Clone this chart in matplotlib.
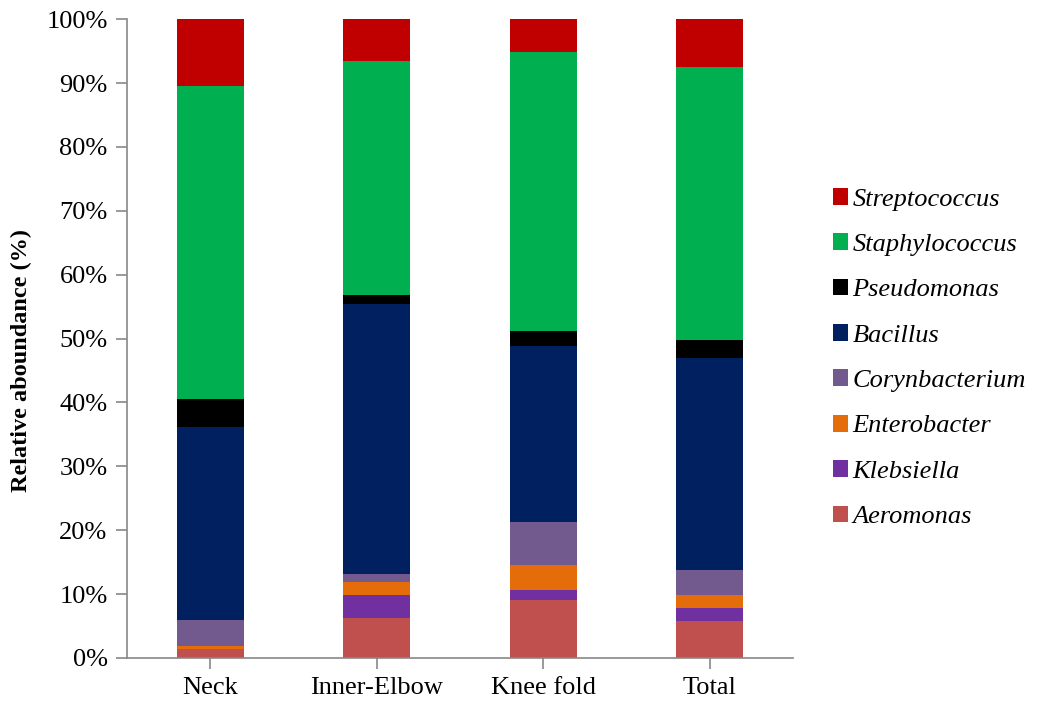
import matplotlib.pyplot as plt
import numpy as np

sites = ["Neck", "Inner-Elbow", "Knee fold", "Total"]

# stacked from the bottom up (values in %)
genera = ["Aeromonas", "Klebsiella", "Enterobacter", "Corynbacterium",
          "Bacillus", "Pseudomonas", "Staphylococcus", "Streptococcus"]
aeromonas = [1.4, 6.3, 9.0, 5.8]
klebsiella = [0.0, 3.6, 1.7, 2.0]
enterobacter = [0.5, 2.0, 3.9, 2.1]
corynbacterium = [4.0, 1.2, 6.7, 3.8]
bacillus = [30.2, 42.3, 27.5, 33.3]
pseudomonas = [4.5, 1.4, 2.4, 2.7]
staphylococcus = [48.9, 36.6, 43.7, 42.8]
streptococcus = [10.5, 6.6, 5.1, 7.5]

values = [aeromonas, klebsiella, enterobacter, corynbacterium,
          bacillus, pseudomonas, staphylococcus, streptococcus]
colors = ["#C0504D", "#7030A0", "#E46C0A", "#735A8E",
          "#002060", "#000000", "#00B050", "#C00000"]

plt.rcParams['font.family'] = ['Liberation Serif', 'DejaVu Serif']

fig = plt.figure(figsize=(10.37, 7.09), dpi=100)
ax = fig.add_axes([0.1225, 0.072, 0.6422, 0.901])

x = np.arange(len(sites))
bottom = np.zeros(len(sites))
for name, vals, c in zip(genera, values, colors):
    vals = np.array(vals)
    ax.bar(x, vals, 0.4, bottom=bottom, color=c, label=name, linewidth=0)
    bottom += vals

ax.set_xlim(-0.5, 3.5)
ax.set_ylim(0, 100)
ax.set_yticks(np.arange(0, 101, 10))
ax.set_yticklabels([f"{v}%" for v in range(0, 101, 10)], fontsize=19)
ax.set_xticks(x)
ax.set_xticklabels(sites, fontsize=19)
ax.tick_params(axis='both', color='#888888', length=8, width=1.2, pad=6)
ax.set_ylabel("Relative aboundance (%)", fontsize=17.5, fontweight='bold')
ax.yaxis.set_label_coords(-0.143, 0.465)

for s in ['top', 'right']:
    ax.spines[s].set_visible(False)
for s in ['left', 'bottom']:
    ax.spines[s].set_color('#888888')
    ax.spines[s].set_linewidth(1.2)

handles, labels = ax.get_legend_handles_labels()
fig.legend(handles[::-1], labels[::-1], loc='center left',
           bbox_to_anchor=(0.78, 0.495), frameon=False,
           prop={'style': 'italic', 'size': 19},
           handlelength=0.6, handleheight=0.6, handletextpad=0.15,
           labelspacing=0.86)

fig.savefig("out.png", dpi=100)
